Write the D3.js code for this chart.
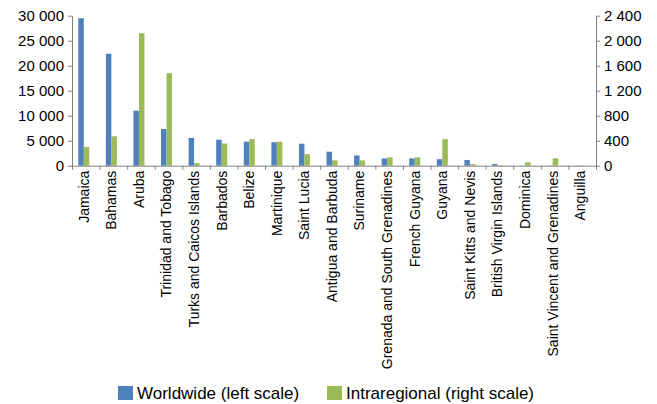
<!DOCTYPE html>
<html>
<head>
<meta charset="utf-8">
<script src="https://cdn.jsdelivr.net/npm/d3@7"></script>
<style>
  body { margin: 0; background: #fff; }
  svg { font-family: "Liberation Sans", Arial, sans-serif; }
  .axis path, .axis line { stroke: #808080; }
  .axis text { fill: #000; }
</style>
</head>
<body>
<div id="chart"></div>
<script>
// data
var countries = ["Jamaica", "Bahamas", "Aruba", "Trinidad and Tobago", "Turks and Caicos Islands",
    "Barbados", "Belize", "Martinique", "Saint Lucia", "Antigua and Barbuda", "Suriname",
    "Grenada and South Grenadines", "French Guyana", "Guyana", "Saint Kitts and Nevis",
    "British Virgin Islands", "Dominica", "Saint Vincent and Grenadines", "Anguilla"];
var worldwide = [29500, 22400, 11000, 7350, 5550, 5200, 4800, 4700, 4400, 2800, 2050,
    1450, 1450, 1300, 1150, 330, 40, 40, 30];
var intraregional = [300, 470, 2120, 1480, 40, 355, 425, 385, 185, 85, 85,
    135, 135, 425, 25, 8, 55, 118, 5];
var leftTicks = [0, 5000, 10000, 15000, 20000, 25000, 30000];
var rightTicks = [0, 400, 800, 1200, 1600, 2000, 2400];
var seriesNames = ["Worldwide (left scale)", "Intraregional (right scale)"];
var colors = ["#4F81BD", "#9BBB59"];

var W = 657, H = 404;
var plotLeft = 72, plotRight = 596, plotTop = 15.7, plotBottom = 165.7;

var svg = d3.select("#chart").append("svg")
    .attr("width", W)
    .attr("height", H);

var x = d3.scaleBand()
    .domain(countries)
    .range([plotLeft, plotRight]);

var xEdges = d3.scaleLinear()
    .domain([0, countries.length])
    .range([plotLeft, plotRight]);

var yL = d3.scaleLinear().domain([0, 30000]).range([plotBottom, plotTop]);
var yR = d3.scaleLinear().domain([0, 2400]).range([plotBottom, plotTop]);

var fmt = function(d) { return d3.format(",")(d).replace(/,/g, " "); };

var barW = 5.5;

// bars
var rows = countries.map(function(c, i) {
    return {name: c, w: worldwide[i], r: intraregional[i]};
});

svg.append("g").selectAll("rect")
    .data(rows)
  .enter().append("rect")
    .attr("x", function(d) { return x(d.name) + x.bandwidth() / 2 - 2 - barW; })
    .attr("width", barW)
    .attr("y", function(d) { return yL(d.w); })
    .attr("height", function(d) { return plotBottom - yL(d.w); })
    .style("fill", colors[0]);

svg.append("g").selectAll("rect")
    .data(rows)
  .enter().append("rect")
    .attr("x", function(d) { return x(d.name) + x.bandwidth() / 2 - 2; })
    .attr("width", barW)
    .attr("y", function(d) { return yR(d.r); })
    .attr("height", function(d) { return plotBottom - yR(d.r); })
    .style("fill", colors[1]);

// left axis
svg.append("g")
    .attr("class", "axis")
    .attr("transform", "translate(" + plotLeft + ",0)")
    .call(d3.axisLeft(yL).tickValues(leftTicks).tickFormat(fmt).tickSize(4).tickSizeOuter(0).tickPadding(4))
  .selectAll("text")
    .style("font-size", "15px");

// right axis
svg.append("g")
    .attr("class", "axis")
    .attr("transform", "translate(" + plotRight + ",0)")
    .call(d3.axisRight(yR).tickValues(rightTicks).tickFormat(fmt).tickSize(4).tickSizeOuter(0).tickPadding(4))
  .selectAll("text")
    .style("font-size", "15px");

// x axis line with ticks at category edges
svg.append("g")
    .attr("class", "axis")
    .attr("transform", "translate(0," + plotBottom + ")")
    .call(d3.axisBottom(xEdges).tickValues(d3.range(countries.length + 1))
        .tickFormat("").tickSize(4).tickSizeOuter(0));

// category labels
svg.append("g")
    .selectAll("text")
    .data(countries)
  .enter().append("text")
    .attr("transform", function(d) {
        return "translate(" + (x(d) + x.bandwidth() / 2 - 2) + "," + (plotBottom + 5) + ") rotate(-90)";
    })
    .attr("dy", "0.35em")
    .style("text-anchor", "end")
    .style("font-size", "14px")
    .text(function(d) { return d; });

// legend
var legendX = [118, 327];
var legend = svg.append("g").selectAll("g")
    .data(seriesNames)
  .enter().append("g")
    .attr("transform", function(d, i) { return "translate(" + legendX[i] + ",386)"; });

legend.append("rect")
    .attr("width", 15)
    .attr("height", 14)
    .style("fill", function(d, i) { return colors[i]; });

legend.append("text")
    .attr("x", 19)
    .attr("y", 13)
    .style("font-size", "17px")
    .text(function(d) { return d; });
</script>
</body>
</html>
